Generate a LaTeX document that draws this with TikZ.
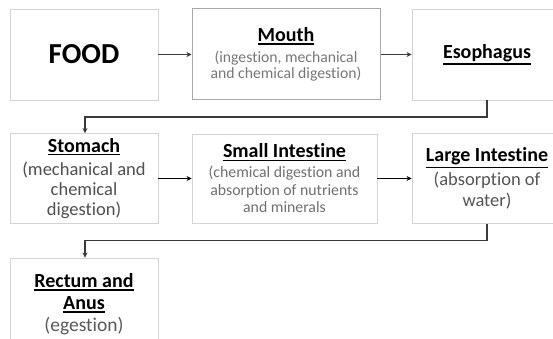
\documentclass[tikz,border=0pt]{standalone}
\usepackage{fontspec}
\setmainfont{Carlito}[Ligatures=NoCommon]
\usetikzlibrary{arrows.meta}
\newcommand\myul[1]{\mbox{\vtop{\hbox{#1}\kern1.4pt\hrule height 1.3pt}}}
\newcommand\ttl{\fontsize{20}{22}\selectfont\bfseries}
\definecolor{boxgray}{HTML}{D4D4D4}
\definecolor{mouthgray}{HTML}{A8A8A8}
\definecolor{arrgray}{HTML}{3A3A3A}
\tikzset{
  stagebox/.style={draw=boxgray, line width=0.9pt, fill=white, align=center, inner sep=0pt, text=black},
  mouthbox/.style={stagebox, draw=mouthgray, line width=1pt},
  arr/.style={line width=1.3pt, draw=arrgray, -{Stealth[length=5pt,width=5pt]}},
}
\begin{document}
\begin{tikzpicture}[x=1pt,y=-1pt]
\useasboundingbox (0,0) rectangle (553,339);
\fill[white] (0,0) rectangle (553,339);

\node[stagebox, minimum width=148pt, minimum height=91pt, font=\fontsize{29}{34}\selectfont\bfseries] (food) at (84,54.5) {FOOD};

\node[mouthbox, minimum width=188pt, minimum height=91pt, font=\fontsize{15.7}{16.5}\selectfont] (mouth) at (286,54.5)
  {\ttl\myul{Mouth}\\[4pt] \color[HTML]{777777}(ingestion, mechanical\\ \color[HTML]{777777}and chemical digestion)};

\node[stagebox, minimum width=150pt, minimum height=91pt] (eso) at (487,54.5) {\ttl\myul{Esophagus}};

\node[stagebox, minimum width=148pt, minimum height=90pt, font=\fontsize{18.5}{20}\selectfont] (stomach) at (84,178.5)
  {\ttl\myul{Stomach}\\[3pt] \color[HTML]{505050}(mechanical and\\ \color[HTML]{505050}chemical\\ \color[HTML]{505050}digestion)};

\node[stagebox, minimum width=185pt, minimum height=89pt, font=\fontsize{15.8}{17.5}\selectfont] (small) at (284.5,178.5)
  {\ttl\myul{Small Intestine}\\[2.5pt] \color[HTML]{707070}(chemical digestion and\\ \color[HTML]{707070}absorption of nutrients\\ \color[HTML]{707070}and minerals};

\node[stagebox, minimum width=150pt, minimum height=90pt, font=\fontsize{18.5}{21}\selectfont] (large) at (487,178.5)
  {\ttl\myul{Large Intestine}\\[3pt] \color[HTML]{555555}(absorption of\\ \color[HTML]{555555}water)};

\node[stagebox, minimum width=148pt, minimum height=93pt, font=\fontsize{19.5}{22}\selectfont] (rectum) at (84,304.5)
  {\ttl\myul{Rectum and}\\ \ttl\myul{Anus}\\ \color[HTML]{5A5A5A}(egestion)};

\draw[arr] (food.east) -- (mouth.west);
\draw[arr] (mouth.east) -- (eso.west);
\draw[arr, draw=black] (stomach.east) -- (small.west);
\draw[arr, draw=black] (small.east) -- (large.west);
\draw[arr] (eso.south) -- ++(0,16.5) -| ([xshift=1pt]stomach.north);
\draw[arr] (large.south) -- ++(0,16.5) -| ([xshift=1pt]rectum.north);
\end{tikzpicture}
\end{document}
